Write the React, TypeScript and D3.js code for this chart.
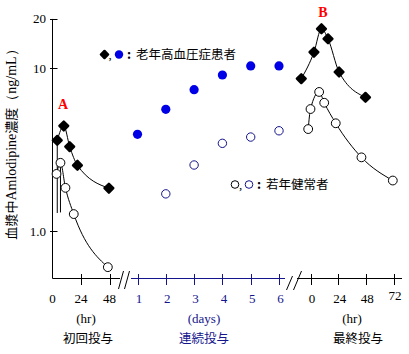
import React from "react";
import * as d3 from "d3";

// ---- data ----
// Section 1: first dose (hr)
const firstHoursElderly = [4, 9.5, 14.5, 21, 47.5];
const firstElderly = [3.6, 4.41, 3.29, 2.53, 1.83];
const firstHoursYoung = [3.4, 6.7, 10.9, 17.9, 46.6];
const firstYoung = [2.24, 2.62, 1.84, 1.27, 0.6];
// lower error bars (index, low value)
const firstElderlyErrLow = [{ i: 0, low: 1.29 }];
const firstYoungErrLow = [{ i: 1, low: 1.3 }];

// Section 2: repeated dosing (days)
const days = [1, 2, 3, 4, 5, 6];
const repeatElderly = [3.92, 5.58, 7.36, 9.06, 10.3, 10.3];
const repeatYoungDays = [2, 3, 4, 5, 6];
const repeatYoung = [1.69, 2.54, 3.45, 3.77, 4.12];

// Section 3: last dose (hr)
const lastHoursElderly = [-8, 3, 9.5, 15.2, 24.8, 47.7];
const lastElderly = [8.6, 12.5, 17.4, 15.1, 9.45, 6.61];
const lastHoursYoung = [-2, 0, 7.5, 11.9, 21.9, 44.2, 71.4];
const lastYoung = [4.22, 5.6, 7.13, 6.12, 4.58, 2.83, 2.04];

const yTicks = [20, 10, 1];
const yTickLabels = ["20", "10", "1.0"];
const firstTicks = [0, 24, 48];
const lastTicks = [0, 24, 48, 72];

const BLUE = "#0000e6";
const NAVY = "#14148c";
const SERIF = "'Liberation Serif', 'Times New Roman', serif";
const CJK = "'Noto Sans CJK JP', 'Noto Sans', sans-serif";

export default function App() {
  const W = 409, H = 354;
  const axisY = 278.5;
  const axisX = 52.5;
  const y = d3.scaleLog().domain([1, 10]).range([231, 68]);
  const yTop = y(20);
  const x1 = d3.scaleLinear().domain([0, 48]).range([52.5, 109.5]);
  const x2 = d3.scaleLinear().domain([1, 6]).range([137.5, 279]);
  const x3 = d3.scaleLinear().domain([0, 72]).range([310.5, 393.5]);

  const line = (xs: number[], vs: number[], xsc: (v: number) => number) =>
    d3
      .line<number>()
      .x((_, i) => xsc(xs[i]))
      .y((v) => y(v))
      .curve(d3.curveMonotoneX)(vs) || "";

  const diamond = (cx: number, cy: number, r: number, color: string, key: string) => (
    <path
      key={key}
      d={`M${cx},${cy - r}L${cx + r},${cy}L${cx},${cy + r}L${cx - r},${cy}Z`}
      fill={color}
      stroke={color}
      strokeWidth={2.4}
      strokeLinejoin="round"
    />
  );
  const openC = (cx: number, cy: number, r: number, color: string, key: string) => (
    <circle key={key} cx={cx} cy={cy} r={r} fill="white" stroke={color} strokeWidth={1} />
  );

  return (
    <svg width={W} height={H} style={{ display: "block", position: "absolute", left: 0, top: 0 }}>
      <rect width={W} height={H} fill="white" />

      {/* Y axis */}
      <line x1={axisX} x2={axisX} y1={yTop} y2={axisY} stroke="black" />
      {yTicks.map((t, i) => (
        <g key={t}>
          <line x1={axisX - 2.5} x2={axisX + 5} y1={Math.round(y(t)) + 0.5} y2={Math.round(y(t)) + 0.5} stroke="black" />
          <text x={46} y={y(t) + 4.5} textAnchor="end" fontFamily={SERIF} fontSize={13}>
            {yTickLabels[i]}
          </text>
        </g>
      ))}
      <text
        transform={`translate(16,141) rotate(-90)`}
        textAnchor="middle"
        fontFamily={CJK}
        fontSize={13}
      >
        血漿中<tspan fontFamily={SERIF} fontSize={14}>Amlodipine</tspan>濃度<tspan fontFamily={SERIF} fontSize={14}>（ng/mL）</tspan>
      </text>

      {/* X axis section 1 */}
      <line x1={axisX} x2={120} y1={axisY} y2={axisY} stroke="black" />
      {firstTicks.map((t) => (
        <g key={"f" + t}>
          {t > 0 && <line x1={Math.round(x1(t)) + 0.5} x2={Math.round(x1(t)) + 0.5} y1={274} y2={285} stroke="black" />}
          <text x={x1(t)} y={303} textAnchor="middle" fontFamily={SERIF} fontSize={13}>{t}</text>
        </g>
      ))}
      <text x={86} y={323} textAnchor="middle" fontFamily={SERIF} fontSize={13}>(hr)</text>
      <text x={88} y={343} textAnchor="middle" fontFamily={CJK} fontSize={12.5}>初回投与</text>

      {/* break 1 */}
      <line x1={118.5} y1={289} x2={123.5} y2={271} stroke="black" />
      <line x1={124.5} y1={289} x2={129.5} y2={271} stroke="black" />

      {/* X axis section 2 */}
      <line x1={131} x2={285} y1={axisY} y2={axisY} stroke={NAVY} />
      {days.map((d) => (
        <g key={"d" + d}>
          <line x1={Math.round(x2(d)) + 0.5} x2={Math.round(x2(d)) + 0.5} y1={274} y2={285} stroke={NAVY} />
          <text x={x2(d) + 1.5} y={303} textAnchor="middle" fontFamily={SERIF} fontSize={13} fill={NAVY}>{d}</text>
        </g>
      ))}
      <text x={204} y={323} textAnchor="middle" fontFamily={SERIF} fontSize={13} fill={NAVY}>(days)</text>
      <text x={204} y={343} textAnchor="middle" fontFamily={CJK} fontSize={12.5} fill={NAVY}>連続投与</text>

      {/* break 2 */}
      <line x1={286.5} y1={290} x2={292.5} y2={276} stroke="black" />
      <line x1={293.5} y1={290} x2={301.5} y2={271} stroke="black" />

      {/* X axis section 3 */}
      <line x1={297} x2={402} y1={axisY} y2={axisY} stroke="black" />
      {lastTicks.map((t) => (
        <g key={"l" + t}>
          <line x1={Math.round(x3(t)) + 0.5} x2={Math.round(x3(t)) + 0.5} y1={274} y2={285} stroke="black" />
          <text x={x3(t) + 1.5} y={t === 72 ? 300 : 303} textAnchor="middle" fontFamily={SERIF} fontSize={13}>{t}</text>
        </g>
      ))}
      <text x={352} y={323} textAnchor="middle" fontFamily={SERIF} fontSize={13}>(hr)</text>
      <text x={358} y={343} textAnchor="middle" fontFamily={CJK} fontSize={12.5}>最終投与</text>

      {/* error bars */}
      {firstElderlyErrLow.map((e) => (
        <line key={"ee" + e.i} x1={x1(firstHoursElderly[e.i])} x2={x1(firstHoursElderly[e.i])} y1={y(firstElderly[e.i])} y2={y(e.low)} stroke="black" />
      ))}
      {firstYoungErrLow.map((e) => (
        <line key={"ey" + e.i} x1={x1(firstHoursYoung[e.i])} x2={x1(firstHoursYoung[e.i])} y1={y(firstYoung[e.i])} y2={y(e.low)} stroke="black" />
      ))}

      {/* curves */}
      <path d={line(firstHoursElderly, firstElderly, x1)} fill="none" stroke="black" />
      <path d={line(firstHoursYoung, firstYoung, x1)} fill="none" stroke="black" />
      <path d={line(lastHoursElderly, lastElderly, x3)} fill="none" stroke="black" />
      <path d={line(lastHoursYoung, lastYoung, x3)} fill="none" stroke="black" />

      {/* markers */}
      {firstElderly.map((v, i) => diamond(x1(firstHoursElderly[i]), y(v), 4.4, "black", "fe" + i))}
      {firstYoung.map((v, i) => openC(x1(firstHoursYoung[i]), y(v), 4.4, "black", "fy" + i))}
      {repeatElderly.map((v, i) => (
        <circle key={"re" + i} cx={x2(days[i])} cy={y(v)} r={4.6} fill={BLUE} />
      ))}
      {repeatYoung.map((v, i) => openC(x2(repeatYoungDays[i]), y(v), 4.2, NAVY, "ry" + i))}
      {lastElderly.map((v, i) => diamond(x3(lastHoursElderly[i]), y(v), 4.4, "black", "le" + i))}
      {lastYoung.map((v, i) => openC(x3(lastHoursYoung[i]), y(v), 4.4, "black", "ly" + i))}

      {/* legends */}
      {diamond(104.5, 54.5, 3.6, "black", "lg1")}
      <text x={108.5} y={59} fontFamily={SERIF} fontSize={13}>,</text>
      <circle cx={119} cy={54.5} r={4.2} fill={BLUE} />
      <text x={127} y={59} fontFamily={CJK} fontSize={12.5} fontWeight="bold">:</text>
      <text x={136} y={59} fontFamily={CJK} fontSize={12.5}>老年高血圧症患者</text>

      {openC(235, 184.5, 3.8, "black", "lg3")}
      <text x={239} y={189} fontFamily={SERIF} fontSize={13}>,</text>
      {openC(249, 184.5, 3.8, NAVY, "lg4")}
      <text x={257} y={189} fontFamily={CJK} fontSize={12.5} fontWeight="bold">:</text>
      <text x={266} y={189} fontFamily={CJK} fontSize={12.5}>若年健常者</text>

      <text x={63} y={109} textAnchor="middle" fontFamily={SERIF} fontSize={14} fontWeight="bold" fill="#ff0000">A</text>
      <text x={323} y={17} textAnchor="middle" fontFamily={SERIF} fontSize={14} fontWeight="bold" fill="#ff0000">B</text>
    </svg>
  );
}
